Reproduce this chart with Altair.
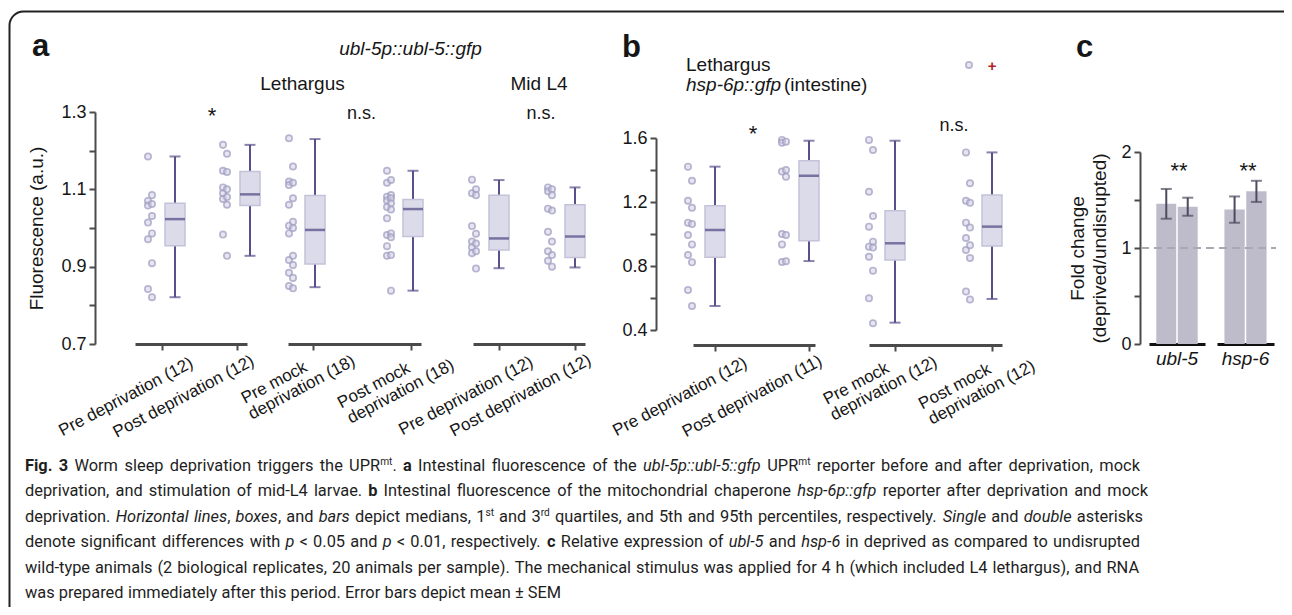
import os
import math
import struct
import pandas as pd
import altair as alt

# ------------------------------------------------------------------ DATA
# Panel a: ubl-5p::ubl-5::gfp fluorescence (a.u.)
a_ids = ["L_pre_dep", "L_post_dep", "L_pre_mock", "L_post_mock", "M_pre_dep", "M_post_dep"]
a_labels = [["Pre deprivation (12)"], ["Post deprivation (12)"],
            ["Pre mock", "deprivation (18)"], ["Post mock", "deprivation (18)"],
            ["Pre deprivation (12)"], ["Post deprivation (12)"]]
a_values = [
    [1.185, 1.085, 1.070, 1.062, 1.058, 1.031, 1.014, 0.986, 0.971, 0.909, 0.842, 0.821],
    [1.215, 1.192, 1.148, 1.145, 1.105, 1.100, 1.090, 1.080, 1.075, 1.060, 0.983, 0.928],
    [1.232, 1.159, 1.120, 1.117, 1.111, 1.077, 1.060, 1.016, 1.006, 1.000, 0.986, 0.928,
     0.917, 0.904, 0.884, 0.871, 0.850, 0.844],
    [1.148, 1.124, 1.117, 1.085, 1.081, 1.077, 1.071, 1.064, 1.054, 1.048, 1.025, 0.986,
     0.982, 0.976, 0.953, 0.930, 0.928, 0.838],
    [1.125, 1.100, 1.090, 1.085, 1.005, 0.985, 0.965, 0.960, 0.950, 0.940, 0.935, 0.895],
    [1.105, 1.100, 1.095, 1.085, 1.050, 1.045, 0.990, 0.965, 0.940, 0.930, 0.915, 0.900],
]
a_p5 = [0.821, 0.928, 0.847, 0.838, 0.896, 0.898]
a_q1 = [0.954, 1.058, 0.907, 0.978, 0.943, 0.924]
a_median = [1.023, 1.087, 0.995, 1.049, 0.973, 0.978]
a_q3 = [1.064, 1.146, 1.084, 1.074, 1.085, 1.060]
a_p95 = [1.185, 1.215, 1.230, 1.148, 1.124, 1.105]

# Panel b: hsp-6p::gfp (intestine)
b_ids = ["pre_dep", "post_dep", "pre_mock", "post_mock"]
b_labels = [["Pre deprivation (12)"], ["Post deprivation (11)"],
            ["Pre mock", "deprivation (12)"], ["Post mock", "deprivation (12)"]]
b_values = [
    [1.421, 1.333, 1.208, 1.164, 1.071, 1.062, 0.994, 0.935, 0.869, 0.823, 0.650, 0.550],
    [1.588, 1.577, 1.570, 1.400, 1.390, 1.358, 1.000, 0.994, 0.935, 0.830, 0.825],
    [1.588, 1.525, 1.264, 1.112, 1.046, 0.952, 0.921, 0.915, 0.858, 0.771, 0.598, 0.442],
    [1.510, 1.317, 1.208, 1.195, 1.071, 1.040, 0.975, 0.930, 0.900, 0.850, 0.640, 0.590],
]
b_p5 = [0.550, 0.831, 0.446, 0.594]
b_q1 = [0.854, 0.958, 0.838, 0.925]
b_median = [1.025, 1.364, 0.942, 1.046]
b_q3 = [1.177, 1.458, 1.146, 1.244]
b_p95 = [1.421, 1.583, 1.583, 1.510]

# Panel c: fold change (deprived/undisrupted), mean +- SEM of two replicates
c_genes = ["ubl-5", "hsp-6"]
c_reps = ["1", "2"]
c_mean = [[1.46, 1.43], [1.40, 1.59]]
c_sem = [[0.155, 0.094], [0.137, 0.110]]
c_reference = [1.0]

caption_lines = [
    [("Fig. 3", "b"), (" Worm sleep deprivation triggers the UPR", "r"), ("mt", "s"), (". ", "r"),
     ("a", "b"), (" Intestinal fluorescence of the ", "r"), ("ubl-5p::ubl-5::gfp", "i"), (" UPR", "r"),
     ("mt", "s"), (" reporter before and after deprivation, mock", "r")],
    [("deprivation, and stimulation of mid-L4 larvae. ", "r"), ("b", "b"),
     (" Intestinal fluorescence of the mitochondrial chaperone ", "r"), ("hsp-6p::gfp", "i"),
     (" reporter after deprivation and mock", "r")],
    [("deprivation. ", "r"), ("Horizontal lines", "i"), (", ", "r"), ("boxes", "i"), (", and ", "r"),
     ("bars", "i"), (" depict medians, 1", "r"), ("st", "s"), (" and 3", "r"), ("rd", "s"),
     (" quartiles, and 5th and 95th percentiles, respectively. ", "r"), ("Single", "i"), (" and ", "r"),
     ("double", "i"), (" asterisks", "r")],
    [("denote significant differences with ", "r"), ("p", "i"), (" < 0.05 and ", "r"), ("p", "i"),
     (" < 0.01, respectively. ", "r"), ("c", "b"), (" Relative expression of ", "r"), ("ubl-5", "i"),
     (" and ", "r"), ("hsp-6", "i"), (" in deprived as compared to undisrupted", "r")],
    [("wild-type animals (2 biological replicates, 20 animals per sample). The mechanical stimulus "
      "was applied for 4 h (which included L4 lethargus), and RNA", "r")],
    [("was prepared immediately after this period. Error bars depict mean \u00b1 SEM", "r")],
]

# ------------------------------------------------------------------ STYLE / LAYOUT
W, H = 1276, 599
OX, OY = 8, 8
FONT = "Liberation Sans"
TXT = "#161616"
AX = "#4a4a4a"
PT_FILL, PT_STROKE = "#d3d1e4", "#a29fc3"
BOX_FILL, BOX_STROKE = "#dcdbea", "#c4c2d9"
WHISK, MED = "#57508a", "#4d4682"
BAR, ERR = "#bebccb", "#4b4a5e"
LAB_ANGLE = -28.0
_th = math.radians(LAB_ANGLE)
_U = (math.cos(_th), math.sin(_th))      # text direction on the page
_V = (-math.sin(_th), math.cos(_th))     # text "down" direction on the page


def local_offset(Dx, Dy):
    """page-space offset -> dx/dy in the rotated text frame (Vega applies dx/dy after rotation)"""
    return Dx * _U[0] + Dy * _U[1], Dx * _V[0] + Dy * _V[1]


def px(v):
    return v - OX


def py(v):
    return v - OY


def point_scale(ids, L, R, t1, t2):
    span, step = R - L, t2 - t1
    pad = (span / step - 1) / 2
    align = (t1 - L) / (span - step)
    return alt.Scale(type="point", domain=ids, range=[px(L), px(R)], padding=pad, align=align)


def y_axis(x_page, values, expr, title=None, title_x=0):
    kw = dict(orient="left", offset=-(x_page - OX), values=values, labelExpr=expr,
              tickSize=6, tickWidth=2, tickColor=AX, domainColor=AX, domainWidth=2,
              labelFont=FONT, labelFontSize=18, labelColor=TXT, labelPadding=3,
              labelOverlap=False, grid=False)
    if title:
        kw.update(title=title, titleFont=FONT, titleFontSize=19, titleFontWeight="normal",
                  titleColor=TXT, titleX=title_x, titleBaseline="middle", titleLineHeight=22)
    else:
        kw["title"] = None
    return alt.Axis(**kw)


def x_axis(base_y):
    return alt.Axis(orient="bottom", offset=py(base_y) - H, labels=False, ticks=True, tickSize=6,
                    tickWidth=2, tickColor=AX, domainColor=AX, domainWidth=3, title=None, grid=False)


def box_group(ids, labels, values, stats, L, R, t1, t2, base_y, ysc, pt_off, box_off, lab_off, yax=None):
    xs = point_scale(ids, L, R, t1, t2)
    rows = [{"id": i, "v": v, "k": n % 2} for i, vals in zip(ids, values) for n, v in enumerate(vals)]
    pdf = pd.DataFrame(rows)
    sdf = pd.DataFrame({"id": ids, "p5": stats[0], "q1": stats[1], "med": stats[2],
                        "q3": stats[3], "p95": stats[4]})
    X = alt.X("id:N", scale=xs, axis=None)
    out = []
    for k, d in ((0, -2), (1, 2)):
        out.append(alt.Chart(pdf).transform_filter(alt.datum.k == k).mark_circle(
            size=40, fill=PT_FILL, fillOpacity=0.55, stroke=PT_STROKE, strokeOpacity=0.75,
            strokeWidth=1.7, xOffset=pt_off + d).encode(x=X, y=alt.Y("v:Q", scale=ysc, axis=None)))
    base = alt.Chart(sdf)
    out.append(base.mark_rule(color=WHISK, strokeWidth=2, xOffset=box_off).encode(
        x=X, y=alt.Y("p5:Q", scale=ysc, axis=None), y2="p95:Q"))
    for f in ("p5", "p95"):
        out.append(base.mark_tick(color=WHISK, thickness=2, size=11, xOffset=box_off).encode(
            x=X, y=alt.Y(f + ":Q", scale=ysc, axis=None)))
    out.append(base.mark_bar(width=20, fill=BOX_FILL, stroke=BOX_STROKE, strokeWidth=1.5,
                             xOffset=box_off).encode(
        x=alt.X("id:N", scale=xs, axis=x_axis(base_y)),
        y=alt.Y("q1:Q", scale=ysc, axis=yax if yax is not None else None), y2="q3:Q"))
    out.append(base.mark_tick(color=MED, thickness=2.5, size=20, xOffset=box_off).encode(
        x=X, y=alt.Y("med:Q", scale=ysc, axis=None)))
    for i, lines in zip(ids, labels):
        for line, (Dx, Dy) in zip(lines, lab_off[i]):
            dx, dy = local_offset(Dx, Dy)
            out.append(alt.Chart(pd.DataFrame({"id": [i], "t": [line]})).mark_text(
                angle=360 + LAB_ANGLE, align="right", baseline="middle", dx=dx, dy=dy, font=FONT,
                fontSize=17, color=TXT).encode(x=X, y=alt.value(py(base_y)), text="t:N"))
    return out


def txt(t, x, y, size=19, weight="normal", style="normal", align="center", color=TXT, baseline="alphabetic"):
    return alt.Chart(pd.DataFrame({"t": [t]})).mark_text(
        align=align, baseline=baseline, font=FONT, fontSize=size, fontWeight=weight,
        fontStyle=style, color=color).encode(x=alt.value(px(x)), y=alt.value(py(y)), text="t:N")


layers = []

# frame
layers.append(alt.Chart(pd.DataFrame({"k": [0]})).mark_rect(
    fill="white", fillOpacity=0, stroke="#222222", strokeWidth=2, cornerRadius=14).encode(
    x=alt.value(px(9.5)), x2=alt.value(px(1320)), y=alt.value(py(11.5)), y2=alt.value(py(720))))

# ---------------- panel a
ysa = alt.Scale(domain=[0.7, 1.3], range=[py(344), py(112)], nice=False, zero=False)
ya_axis = y_axis(95, [0.7, 0.8, 0.9, 1.0, 1.1, 1.2, 1.3],
                 "round(datum.value*10) % 2 == 1 ? format(datum.value, '.1f') : ''",
                 title="Fluorescence (a.u.)", title_x=-59)
# page-space anchor (end of each label line) relative to its tick
lab_a = {"L_pre_dep": [(30, 18)], "L_post_dep": [(16, 16)],
         "L_pre_mock": [(-7, 22), (41, 16)], "L_post_mock": [(-2, 23), (42, 20)],
         "M_pre_dep": [(33, 17)], "M_post_dep": [(15, 15)]}
a_stats = [a_p5, a_q1, a_median, a_q3, a_p95]
groups_a = [((0, 1), 135, 247, 162, 237, -12, 13), ((2, 3), 288, 421, 313, 411, -22, 2),
            ((4, 5), 473, 585, 499, 575, -25, 0)]
for gi, (idx, L, R, t1, t2, po, bo) in enumerate(groups_a):
    ids = [a_ids[i] for i in idx]
    layers += box_group(ids, [a_labels[i] for i in idx], [a_values[i] for i in idx],
                        [[s[i] for i in idx] for s in a_stats], L, R, t1, t2, 344, ysa, po, bo, lab_a,
                        yax=ya_axis if gi == 0 else None)

# ---------------- panel b
ysb = alt.Scale(domain=[0.4, 1.6], range=[py(330), py(138)], nice=False, zero=False)
yb_axis = y_axis(656, [0.4, 0.6, 0.8, 1.0, 1.2, 1.4, 1.6],
                 "round(datum.value*10) % 4 == 0 ? format(datum.value, '.1f') : ''")
lab_b = {"pre_dep": [(31, 17)], "post_dep": [(12, 15)],
         "pre_mock": [(-7, 22), (41, 16)], "post_mock": [(-2, 23), (42, 20)]}
b_stats = [b_p5, b_q1, b_median, b_q3, b_p95]
groups_b = [((0, 1), 693, 815, 715, 809, -25, 0), ((2, 3), 869, 1002, 895, 992, -24, 0)]
for gi, (idx, L, R, t1, t2, po, bo) in enumerate(groups_b):
    ids = [b_ids[i] for i in idx]
    layers += box_group(ids, [b_labels[i] for i in idx], [b_values[i] for i in idx],
                        [[s[i] for i in idx] for s in b_stats], L, R, t1, t2, 345, ysb, po, bo, lab_b,
                        yax=yb_axis if gi == 0 else None)

# ---------------- panel c
ysc = alt.Scale(domain=[0, 2], range=[py(344), py(152)], nice=False, zero=False)
yc_axis = y_axis(1140, [0, 0.5, 1, 1.5, 2], "datum.value % 1 == 0 ? format(datum.value, 'd') : ''",
                 title=["Fold change", "(deprived/undisrupted)"], title_x=-63)
gene_ranges = [(1149, 1205), (1217, 1274)]
for gi, (g, (L, R)) in enumerate(zip(c_genes, gene_ranges)):
    gdf = pd.DataFrame({"g": [g]})
    layers.append(alt.Chart(gdf).mark_point(opacity=0).encode(
        x=alt.X("g:N", scale=alt.Scale(type="band", domain=[g], range=[px(L), px(R)],
                                       paddingInner=0, paddingOuter=0),
                axis=alt.Axis(orient="bottom", offset=py(344) - H, ticks=False, tickSize=0,
                              domainColor="#111111", domainWidth=3, labelFont=FONT, labelFontSize=19,
                              labelFontStyle="italic", labelColor=TXT, labelPadding=5, labelAngle=0,
                              title=None, grid=False)),
        y=alt.value(0)))
    m, s = c_mean[gi], c_sem[gi]
    cdf = pd.DataFrame({"rep": c_reps, "mean": m, "lo": [a - b for a, b in zip(m, s)],
                        "hi": [a + b for a, b in zip(m, s)]})
    xr = alt.X("rep:N", scale=alt.Scale(type="band", domain=c_reps, range=[px(L), px(R)],
                                         paddingInner=0.07, paddingOuter=0.34), axis=None)
    cb = alt.Chart(cdf)
    layers.append(cb.mark_bar(color=BAR).encode(
        x=xr, y=alt.Y("mean:Q", scale=ysc, axis=yc_axis if gi == 0 else None)))
    layers.append(cb.mark_rule(color=ERR, strokeWidth=2).encode(
        x=xr, y=alt.Y("lo:Q", scale=ysc, axis=None), y2="hi:Q"))
    for f in ("lo", "hi"):
        layers.append(cb.mark_tick(color=ERR, thickness=2, size=11).encode(
            x=xr, y=alt.Y(f + ":Q", scale=ysc, axis=None)))
layers.append(alt.Chart(pd.DataFrame({"v": c_reference})).mark_rule(
    color="#a9a8b3", strokeDash=[8, 5], strokeWidth=2).encode(
    y=alt.Y("v:Q", scale=ysc, axis=None), x=alt.value(px(1141)), x2=alt.value(px(1276))))

# ---------------- annotations
layers += [
    txt("a", 32, 56, size=31, weight="bold", align="left"),
    txt("b", 622, 57, size=31, weight="bold", align="left"),
    txt("c", 1076, 57, size=31, weight="bold", align="left"),
    txt("ubl-5p::ubl-5::gfp", 410.5, 55, style="italic"),
    txt("Lethargus", 302.5, 90),
    txt("Mid L4", 539, 90),
    txt("*", 212, 123, size=22),
    txt("n.s.", 361.5, 119, size=18),
    txt("n.s.", 541, 119, size=18),
    txt("Lethargus", 686, 71, align="left"),
    txt("hsp-6p::gfp", 686, 91, style="italic", align="left"),
    txt("(intestine)", 784, 91, align="left"),
    txt("*", 753, 141, size=22),
    txt("n.s.", 954, 131, size=18),
    txt("**", 1179, 178, size=22),
    txt("**", 1248, 178, size=22),
    txt("+", 992, 66, size=15, weight="bold", color="#b02424", baseline="middle"),
]
layers.append(alt.Chart(pd.DataFrame({"k": [0]})).mark_circle(
    size=40, fill=PT_FILL, fillOpacity=0.55, stroke=PT_STROKE, strokeOpacity=0.75, strokeWidth=1.7).encode(
    x=alt.value(px(969)), y=alt.value(py(65))))


# ---------------- caption (word positions from the font's own advance widths)
def font_index():
    idx = {}
    for root in ["/usr/share/fonts", "/usr/local/share/fonts", os.path.expanduser("~/.fonts"),
                 os.path.expanduser("~/.local/share/fonts")]:
        if os.path.isdir(root):
            for dp, _, fn in os.walk(root):
                for f in fn:
                    idx.setdefault(f.lower(), os.path.join(dp, f))
    return idx


def font_widths(path):
    with open(path, "rb") as fh:
        data = fh.read()
    base = struct.unpack(">I", data[12:16])[0] if data[:4] == b"ttcf" else 0
    num = struct.unpack(">H", data[base + 4:base + 6])[0]
    tabs = {}
    for i in range(num):
        o = base + 12 + 16 * i
        tabs[data[o:o + 4].decode("latin-1")] = struct.unpack(">I", data[o + 8:o + 12])[0]
    upem = struct.unpack(">H", data[tabs["head"] + 18:tabs["head"] + 20])[0]
    nhm = struct.unpack(">H", data[tabs["hhea"] + 34:tabs["hhea"] + 36])[0]
    hm = tabs["hmtx"]
    adv = [struct.unpack(">H", data[hm + 4 * i:hm + 4 * i + 2])[0] for i in range(nhm)]
    c = tabs["cmap"]
    n = struct.unpack(">H", data[c + 2:c + 4])[0]
    sub = None
    for i in range(n):
        pid, eid, so = struct.unpack(">HHI", data[c + 4 + 8 * i:c + 12 + 8 * i])
        if struct.unpack(">H", data[c + so:c + so + 2])[0] == 4 and (pid == 0 or (pid == 3 and eid == 1)):
            sub = c + so
            break
    if sub is None:
        return None
    seg2 = struct.unpack(">H", data[sub + 6:sub + 8])[0]
    sc = seg2 // 2
    ends = struct.unpack(">%dH" % sc, data[sub + 14:sub + 14 + seg2])
    starts = struct.unpack(">%dH" % sc, data[sub + 16 + seg2:sub + 16 + 2 * seg2])
    deltas = struct.unpack(">%dh" % sc, data[sub + 16 + 2 * seg2:sub + 16 + 3 * seg2])
    ro = sub + 16 + 3 * seg2
    roff = struct.unpack(">%dH" % sc, data[ro:ro + seg2])

    def glyph(code):
        for i in range(sc):
            if ends[i] >= code:
                if starts[i] > code:
                    return 0
                if roff[i] == 0:
                    return (code + deltas[i]) & 0xFFFF
                addr = ro + 2 * i + roff[i] + 2 * (code - starts[i])
                g = struct.unpack(">H", data[addr:addr + 2])[0]
                return (g + deltas[i]) & 0xFFFF if g else 0
        return 0

    cache = {}

    def width(s):
        tot = 0
        for ch in s:
            if ch not in cache:
                g = glyph(ord(ch))
                cache[ch] = adv[min(g, nhm - 1)] / upem
            tot += cache[ch]
        return tot
    return width


FIDX = font_index()
CANDIDATES = [
    ("Liberation Sans Narrow", "liberationsansnarrow-regular.ttf", "liberationsansnarrow-bold.ttf",
     "liberationsansnarrow-italic.ttf"),
    ("Roboto", "roboto-regular.ttf", "roboto-bold.ttf", "roboto-italic.ttf"),
    ("Lato", "lato-regular.ttf", "lato-bold.ttf", "lato-italic.ttf"),
    ("Liberation Sans", "liberationsans-regular.ttf", "liberationsans-bold.ttf", "liberationsans-italic.ttf"),
]
CAP_FONT, metrics = "Roboto", None
for fam, r, b, i in CANDIDATES:
    if r in FIDX:
        try:
            wr = font_widths(FIDX[r])
        except Exception:
            wr = None
        if wr is None:
            continue
        wb = font_widths(FIDX[b]) if b in FIDX else wr
        wi = font_widths(FIDX[i]) if i in FIDX else wr
        CAP_FONT, metrics = fam, {"r": wr, "b": wb or wr, "i": wi or wr}
        break
if metrics is None:
    metrics = {"r": lambda s: 0.49 * len(s), "b": lambda s: 0.53 * len(s), "i": lambda s: 0.48 * len(s)}

SUP = 0.62
CAP_X0 = 25
line_ends = [1140, 1148, 1143, 1140, 1139, None]
base0, lstep = 471, 25.4


def split_words(segs):
    words, cur = [], []
    for text, st in segs:
        parts = text.split(" ")
        for j, p in enumerate(parts):
            if j > 0 and cur:
                words.append(cur)
                cur = []
            if p:
                cur.append((p, st))
    if cur:
        words.append(cur)
    return words


def piece_w(t, st, fs):
    if st == "s":
        return metrics["r"](t) * SUP * fs
    return metrics[st](t) * fs


nat_em = []
for segs, end in zip(caption_lines, line_ends):
    if end is None:
        continue
    ws = split_words(segs)
    nat_em.append((sum(piece_w(t, s, 1) for w in ws for t, s in w)
                   + metrics["r"](" ") * (len(ws) - 1), end - CAP_X0))
CAP_FS = min(0.985 * tgt / em for em, tgt in nat_em)
CAP_FS = max(12.0, min(19.0, CAP_FS))

cap_rows = []
for li, (segs, end) in enumerate(zip(caption_lines, line_ends)):
    ws = split_words(segs)
    wws = [sum(piece_w(t, s, CAP_FS) for t, s in w) for w in ws]
    space = metrics["r"](" ") * CAP_FS
    gap = space
    if end is not None and len(ws) > 1:
        gap = space + (end - CAP_X0 - sum(wws) - space * (len(ws) - 1)) / (len(ws) - 1)
    x = CAP_X0
    yb = base0 + lstep * li
    for w, ww in zip(ws, wws):
        xx = x
        for t, s in w:
            cap_rows.append({"x": px(xx), "y": py(yb - (0.36 * CAP_FS if s == "s" else 0)), "t": t, "s": s})
            xx += piece_w(t, s, CAP_FS)
        x += ww + gap
cap_df = pd.DataFrame(cap_rows)
style_props = {"r": dict(fontSize=CAP_FS), "b": dict(fontSize=CAP_FS, fontWeight="bold"),
               "i": dict(fontSize=CAP_FS, fontStyle="italic"), "s": dict(fontSize=CAP_FS * SUP)}
for s, props in style_props.items():
    layers.append(alt.Chart(cap_df).transform_filter(alt.datum.s == s).mark_text(
        align="left", baseline="alphabetic", font=CAP_FONT, color="#1e1e1e", **props).encode(
        x=alt.X("x:Q", scale=None), y=alt.Y("y:Q", scale=None), text="t:N"))

chart = alt.layer(*layers).resolve_scale(x="independent", y="independent").properties(
    width=W, height=H, padding=0, autosize=alt.AutoSizeParams(type="none"), background="white"
).configure_view(strokeWidth=0)

chart.save("out.html", embed_options={"renderer": "svg", "actions": False})
